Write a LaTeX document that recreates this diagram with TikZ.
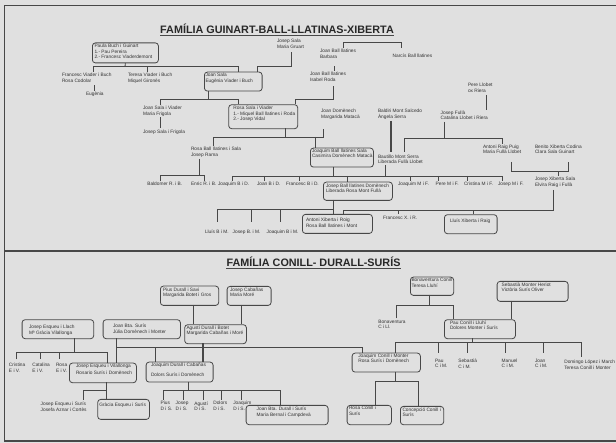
\documentclass[tikz,border=0pt]{standalone}
\usepackage{fontspec}
\setmainfont{Liberation Sans}
\definecolor{bg}{RGB}{224,224,224}
\definecolor{lc}{RGB}{72,72,72}
\definecolor{ink}{RGB}{50,50,50}
\definecolor{tink}{RGB}{40,40,40}
\tikzset{
 txt/.style={anchor=north west, inner sep=0pt, outer sep=0pt, align=left, text=ink, font=\fontsize{4.8}{5.6}\selectfont},
 famtitle/.style={anchor=base, inner sep=0pt, text=tink, font=\fontsize{10.8}{12}\selectfont\bfseries},
 box/.style={draw=lc, line width=0.8pt, rounded corners=3pt, inner sep=0pt, anchor=north west},
 ln/.style={draw=lc, line width=0.85pt},
 thk/.style={draw=lc, line width=1.6pt},
 frm/.style={draw=lc, line width=1.2pt},
}
\newcommand\tx[4]{\node[txt] (#1) at (#2,#3-1.8) {#4};}
\newcommand\bx[5]{\node[box, minimum width=#4pt, minimum height=#5pt] (#1) at (#2,#3) {};}
\begin{document}
\begin{tikzpicture}[x=1pt,y=-1pt]
\fill[bg] (0,0) rectangle (616,443);
\useasboundingbox (0,0) rectangle (616,443);
% frame
\draw[frm] (4.5,5.5) -- (616,5.5);
\draw[frm] (4.5,5.5) -- (4.5,441) -- (616,441);
\draw[lc, line width=1.8pt] (4.5,251) -- (616,251);
% titles
\node[famtitle] (ti1) at (277,33.5) {FAMÍLIA GUINART-BALL-LLATINAS-XIBERTA};
\draw[lc, line width=0.9pt] ([yshift=-1.8pt]ti1.base west) -- ([yshift=-1.8pt]ti1.base east);
\node[famtitle] (ti2) at (313.5,267) {FAMÍLIA CONILL- DURALL-SURÍS};
\draw[lc, line width=0.9pt] ([yshift=-1.8pt]ti2.base west) -- ([yshift=-1.8pt]ti2.base east);

% ===== TOP boxes =====
\bx{bA}{92}{42.5}{66}{20}
\bx{bJS}{204}{71.7}{57.7}{19}
\bx{bRS}{228.3}{104.3}{69}{24}
\bx{bJB}{310}{147.7}{63}{19}
\bx{bJBD}{323}{181.7}{69}{18.3}
\bx{bAX}{302}{214}{70}{19}
\bx{bLX}{444}{214.3}{52.7}{19}

% ===== TOP texts =====
\tx{tA}{94.5}{45.8}{Paula Buch i Guinart\\1.- Pau Pereira\\2.- Francesc Viaderdemont}
\tx{tFV}{62}{75}{Francesc Viader i Buch\\Rosa Codolar}
\tx{tTV}{128}{75}{Teresa Viader i Buch\\Miquel Gironès}
\tx{tEug}{86}{94}{Eugènia}
\tx{tJS}{205.5}{75}{Joan Sala\\Eugènia Viader i Buch}
\tx{tJSG}{277}{41}{Josep Sala\\Maria Gruart}
\tx{tJBB}{320}{51}{Joan Ball llatines\\Barbara}
\tx{tNB}{392.7}{56}{Narcís Ball llatines}
\tx{tJBI}{310}{74}{Joan Ball llatines\\Isabel Roda}
\tx{tRS}{233.3}{108}{Rosa Sala i Viader\\1.- Miquel Ball llatines i Roda\\2.- Josep Vidal}
\tx{tJSV}{143}{108.3}{Joan Sala i Viader\\Maria Frigola}
\tx{tJSF}{143}{131.7}{Josep Sala i Frigola}
\tx{tJDM}{321}{111}{Joan Domènech\\Margarida Matacà}
\tx{tBMS}{378}{111}{Baldiri Mont Salcedo\\Àngela Serra}
\tx{tJF}{440.7}{112.3}{Josep Fullà\\Catalina Llobet i Riera}
\tx{tPL}{468}{85}{Pere Llobet\\ox Riera}
\tx{tRBS}{191}{149}{Rosa Ball llatines i Sala\\Josep Rama}
\tx{tJB}{312}{150.5}{Joaquim Ball llatines Sala\\Casimira Domènech Matacà}
\tx{tBMo}{378}{156.5}{Bautillo Mont Serra\\Liberada Fullà Llobet}
\tx{tARP}{483}{146.7}{Antoni Raig Puig\\Maria Fullà Llobet}
\tx{tBXC}{535}{146.7}{Benito Xiberta Codina\\Clara Sala Guinart}
\tx{tJXS}{535}{179}{Josep Xiberta Sala\\Elvira Raig i Fullà}
\tx{tBa}{147.3}{184.3}{Baldomer R. i B.}
\tx{tEn}{191}{184.3}{Enric R. i B.}
\tx{tJq}{218}{184.3}{Joaquim B i D.}
\tx{tJn}{257}{184.3}{Joan B i D.}
\tx{tFr}{286}{184.3}{Francesc B i D.}
\tx{tJqM}{398}{184.3}{Joaquim M i F.}
\tx{tPe}{435.7}{184.3}{Pere M i F.}
\tx{tCr}{464}{184.3}{Cristina M i F.}
\tx{tJoM}{498}{184.3}{Josep M i F.}
\tx{tJBD}{326}{185.5}{Josep Ball llatines Domènech\\Liberada Rosa Mont Fullà}
\tx{tLl}{205}{231.7}{Lluís B i M.}
\tx{tJs}{232.7}{231.7}{Josep B. i M.}
\tx{tJqB}{266.7}{231.7}{Joaquim B i M.}
\tx{tFX}{383}{217.7}{Francesc X. i R.}
\tx{tAX}{306}{220}{Antoni Xiberta i Roig\\Rosa Ball llatines i Mont}
\tx{tLX}{450}{221}{Lluís Xiberta i Raig}

% ===== TOP connectors =====
\draw[ln] (bA.south) -- (125,66.7);
\draw[ln] (93,72) -- (93,66.7) -- (238.3,66.7) -- (238.3,71.7);
\draw[ln] (147,66.7) -- (147,72);
\draw[ln] (94,85.5) -- (94,91);
\draw[ln] (291.7,52.5) -- (291.7,66.7) -- (257.3,66.7) -- (257.3,71.7);
\draw[ln] (208.3,90.7) -- (208.3,99.3);
\draw[ln] (160.7,104.8) -- (160.7,99.3) -- (238.3,99.3) -- (238.3,104.3);
\draw[ln] (343.3,48.3) -- (343.3,42.7) -- (401,42.7) -- (401,48.3);
\draw[ln] (334.3,66.5) -- (334.3,71.5);
\draw[ln] (333.3,86.5) -- (333.3,99.3) -- (295,99.3) -- (295,104.3);
\draw[ln] (160.7,117.5) -- (160.7,128.3);
\draw[ln] (285,128.3) -- (285,137);
\draw[ln] (213,146) -- (213,137) -- (323.3,137) -- (323.3,129.5);
\draw[ln] (315,137) -- (315,147.7);
\draw[ln] (199,159) -- (199,175);
\draw[ln] (160.7,181.5) -- (160.7,175) -- (204,175) -- (204,181.5);
\draw[ln] (333,166.7) -- (333,176);
\draw[ln] (232,181.5) -- (232,176) -- (502,176) -- (502,181.5);
\foreach \xx in {264,299,410,438.3,467.7} \draw[ln] (\xx,176) -- (\xx,181.5);
\draw[ln] (347,176) -- (347,181.7);
\draw[ln] (385,165) -- (385,176);
\draw[thk] (391,121) -- (391,152);
\draw[ln] (444.3,122) -- (444.3,138);
\draw[ln] (404,152) -- (404,138) -- (502,138) -- (502,144);
\draw[ln] (486.7,95) -- (486.7,110);
\draw[ln] (511,162) -- (511,171.7) -- (568,171.7) -- (568,162);
\draw[ln] (558,171.7) -- (558,176);
\draw[ln] (333,200) -- (333,214);
\draw[ln] (217,222) -- (217,209.3) -- (333,209.3);
\draw[ln] (251,209.3) -- (251,222);
\draw[ln] (280,209.3) -- (280,222);
\draw[ln] (553,190) -- (553,210.5) -- (343,210.5) -- (343,214);
\draw[ln] (398,210.5) -- (398,214.5);
\draw[ln] (473,210.5) -- (473,214.3);

% ===== BOTTOM boxes =====
\bx{bPD}{160}{285.7}{58.3}{19.3}
\bx{bJC}{226.7}{286}{44}{19}
\bx{bAD}{184.3}{324.3}{61.7}{19}
\bx{bJE}{21.7}{319.3}{71.6}{19}
\bx{bJBS}{102.7}{319.3}{77.3}{19}
\bx{bEV}{69}{362.7}{67}{19.6}
\bx{bJD}{145.7}{361.7}{67}{20}
\bx{bJBD2}{245.7}{405}{82}{19.3}
\bx{bGE}{97.3}{399}{51.7}{20}
\bx{bBC}{410}{276.7}{43.3}{18.3}
\bx{bSM}{496.7}{281}{71}{20}
\bx{bPC}{444}{319.3}{71}{19}
\bx{bJCM}{351.7}{352.7}{68.3}{19}
\bx{bRC}{346.7}{405}{44.3}{19.3}
\bx{bCC}{400}{406}{43.3}{18.3}

% ===== BOTTOM texts =====
\tx{tPD}{163}{289.5}{Pius Durall i Savi\\Margarida Botet i Gros}
\tx{tJC}{230}{289.5}{Josep Cabañas\\Maria Moré}
\tx{tAD}{186.5}{327.3}{Agustí Durall i Botet\\Margarida Cabañas i Moré}
\tx{tJE}{29}{327}{Josep Esqueu i Llach\\Mª Gràcia Vilallonga}
\tx{tJBS}{113}{326}{Joan Bta. Surís\\Júlia Domènech i Monter}
\tx{tCri}{9}{365}{Cristina\\E i V.}
\tx{tCat}{32.3}{365}{Catalina\\E i V.}
\tx{tRo}{56}{365}{Rosa\\E i V.}
\tx{tEV}{76}{366}{Josep Esqueu i Vilallonga\\[1.6pt]Rosario Surís i Domènech}
\tx{tJD}{151}{365}{Joaquim Durall i Cabañas\\[4.4pt]Dolors Surís i Domènech}
\tx{tPi}{160.7}{403.3}{Pius\\D i S.}
\tx{tJo}{175.7}{403.3}{Josep\\D i S.}
\tx{tAg}{194.3}{403.3}{Agustí\\D i S.}
\tx{tDo}{213.3}{403.3}{Dolors\\D i S.}
\tx{tJqD}{233.3}{403.3}{Joaquim\\D i S.}
\tx{tJBD2}{256.7}{409}{Joan Bta. Durall i Surís\\Maria Bernal i Campdevà}
\tx{tJES}{40.7}{404}{Josep Esqueu i Surís\\Josefa Aznar i Cortès}
\tx{tGE}{99.3}{404.3}{Gràcia Esqueu i Surís}
\tx{tBC}{411.5}{280.3}{Bonaventura Conill\\Teresa Lluhí}
\tx{tBCL}{378.3}{321.7}{Bonaventura\\C i Ll.}
\tx{tSM}{501.7}{284.3}{Sebastià Monter Heriot\\Victòria Surís Oliver}
\tx{tPC}{450}{322.3}{Pau Conill i Lluhí\\Dolores Monter i Surís}
\tx{tPa}{435}{360.7}{Pau\\C i M.}
\tx{tSe}{458.3}{360.7}{Sebastià\\C i M.}
\tx{tMa}{501.7}{360.7}{Manuel\\C i M.}
\tx{tJoa}{535}{360.7}{Joan\\C i M.}
\tx{tDL}{564.3}{361.7}{Domingo López i March\\Teresa Conill i Monter}
\tx{tJCM}{358.3}{355.5}{Joaquim Conill i Monter\\Rosa Surís i Domènech}
\tx{tRC}{349}{408.3}{Rosa Conill i\\Surís}
\tx{tCC}{402.5}{409.3}{Concepció Conill i\\Surís}

% ===== BOTTOM connectors =====
\draw[ln] (193.3,305) -- (193.3,324.3);
\draw[ln] (241.7,305) -- (241.7,324.3);
\draw[ln] (74,338.3) -- (74,352.7);
\draw[ln] (16.7,359.5) -- (16.7,352.7) -- (107.3,352.7) -- (107.3,362.7);
\draw[ln] (40.7,352.7) -- (40.7,359.5);
\draw[ln] (59.3,352.7) -- (59.3,359.5);
\draw[ln] (116.7,338.3) -- (116.7,362.7);
\draw[ln] (116.7,347.7) -- (362.3,347.7) -- (362.3,352.7);
\draw[ln] (155,347.7) -- (155,361.7);
\draw[thk] (203,343.3) -- (203,361.7);
\draw[ln] (188.3,381.7) -- (188.3,390.7);
\draw[ln] (163.3,400) -- (163.3,390.7) -- (280,390.7) -- (280,405);
\foreach \xx in {183.3,203.3,221.7,241.7} \draw[ln] (\xx,390.7) -- (\xx,400);
\draw[ln] (106.7,382.3) -- (106.7,399);
\draw[ln] (106.7,390) -- (83.3,390) -- (83.3,400.5);
\draw[ln] (429,295) -- (429,305);
\draw[ln] (396,318.5) -- (396,305) -- (453.3,305) -- (453.3,319.3);
\draw[ln] (511,301) -- (511,319.3);
\draw[ln] (472.7,338.3) -- (472.7,342.7);
\draw[ln] (395,352.7) -- (395,342.7) -- (581,342.7) -- (581,356.7);
\foreach \xx in {438.3,467.3,505,543.3} \draw[ln] (\xx,342.7) -- (\xx,353.3);
\draw[ln] (395,371.7) -- (395,381.7);
\draw[ln] (375.7,405) -- (375.7,381.7) -- (418.3,381.7) -- (418.3,406);
\end{tikzpicture}
\end{document}
